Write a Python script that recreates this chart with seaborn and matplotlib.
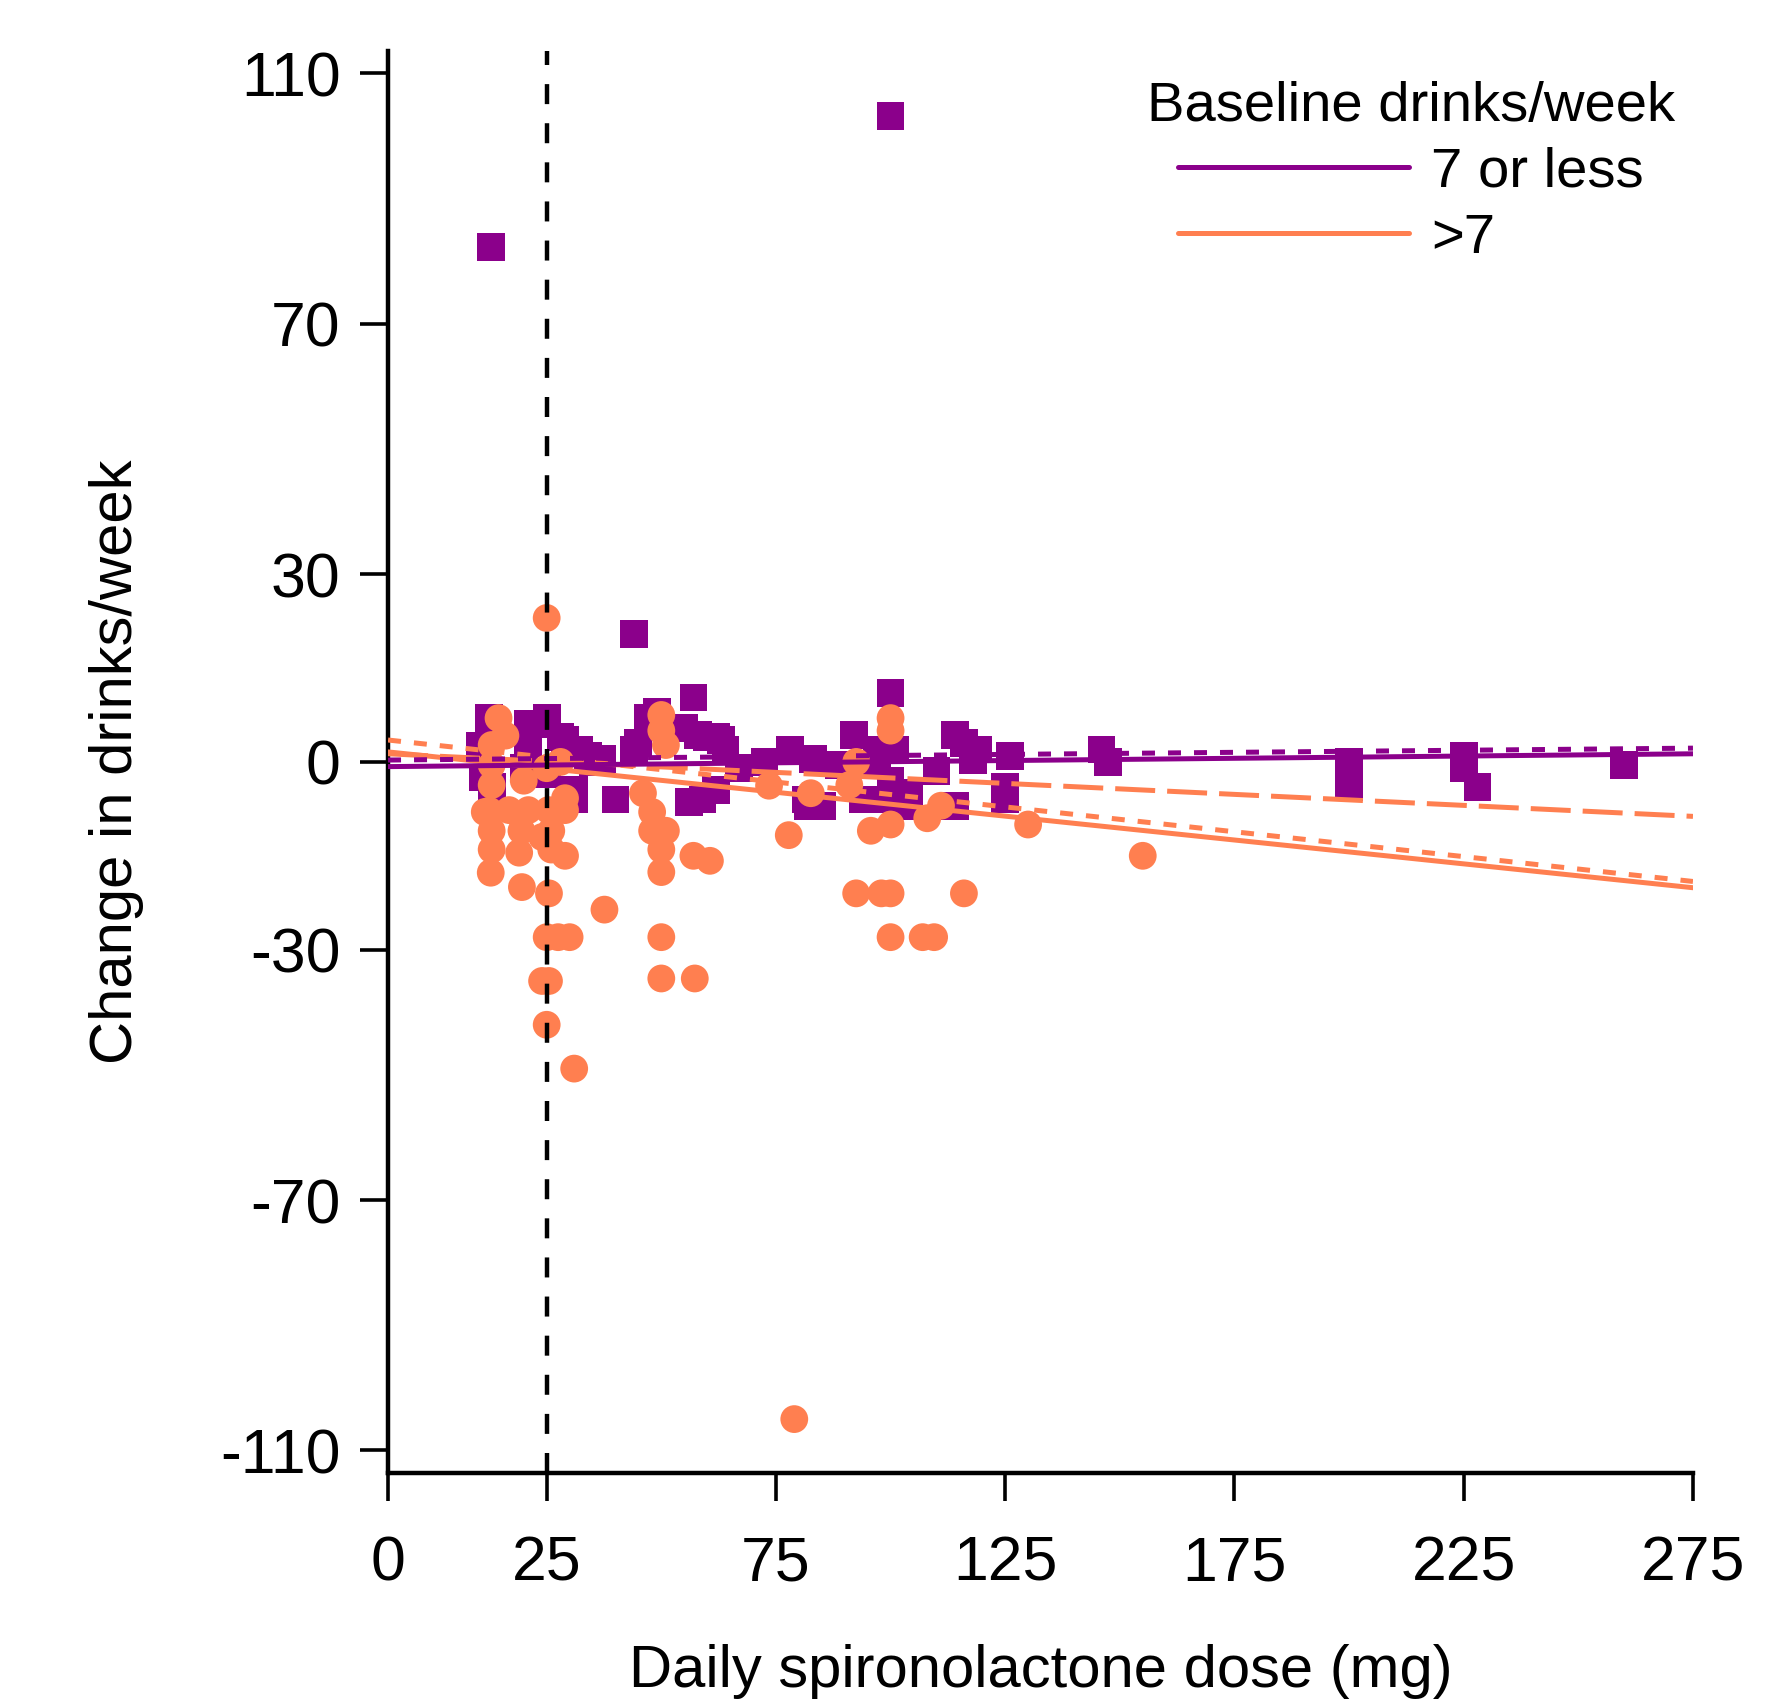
import matplotlib
matplotlib.use("Agg")
import matplotlib.pyplot as plt
from matplotlib.lines import Line2D
import pandas as pd
import numpy as np
import seaborn as sns

purple = "#8B008B"
orange = "#FF7F50"

# baseline 7 or less drinks/week (squares)
low_dose = [12.9, 100, 44, 100, 57, 49, 47, 55, 58, 60, 62, 63, 64, 44, 40,
            72.5, 78, 82, 81.5, 83, 62, 56, 59, 92, 97, 101, 88.8, 97, 100,
            100, 104, 94, 103, 110, 114, 116, 119, 118, 126, 125, 125, 114,
            146, 147.5, 200, 200, 225, 225, 228, 260, 85, 12.5, 12.5, 10.5,
            11, 21, 21, 22, 25, 28, 29, 32, 34, 31, 31, 35, 37, 13, 20, 25,
            45, 67]
low_change = [82.3, 103.2, 20.4, 11, 10.3, 8, 7, 5.4, 4.3, 4, 4, 3.5, 2, 2, -6,
              0, 2, -7, -6, 0.5, -4.5, -6.4, -6, 4.3, 2, 2, -0.5, 0, -3,
              -6, -5, -6, -7, -1.5, 4.3, 3, 2, 0.3, 1, -4, -6, -7,
              2, 0, 0, -4, 1, -1, -4, -0.5, -7, 7, 4, 2.5,
              -2.5, 6, 3, 6, 7, 4, 3.5, 2, 1, -4.5, -6, 0, 0.5, -4, -1, -2,
              3, -1]

# baseline >7 drinks/week (circles)
high_dose = [25, 79, 31, 25, 24, 25.5, 25, 27.5, 30, 37.6, 25.5, 19.6, 12.8,
             29, 19, 13, 13, 24, 26, 12.5, 16.8, 21, 25.4, 29, 11.5, 13, 13,
             13, 14.5, 16, 20, 26, 29, 25, 28, 46, 48, 48, 51, 50, 50, 51,
             50, 50, 57, 60.6, 50, 50, 57.3, 73.5, 77.8, 82.6, 91, 92.5,
             95.7, 100, 108, 111, 130, 155, 92.5, 98, 100, 116, 100, 107,
             109.5, 100, 100, 19.5]
high_change = [23, -105, -49, -42, -35, -35, -28, -28, -28, -23.6, -21, -20,
               -17.7, -15, -14.5, -11, -14, -12, -14, -7.8, -7.7, -7.7, -7.7,
               -7.7, -8, -3.7, -0.5, 2.7, 7, 4.2, -3, -11, -5.8, -1, 0, -5, -8,
               -11, -11, 7.5, 5, 2.7, -14, -17.6, -15, -15.8, -28, -34.6,
               -34.6, -3.8, -11.7, -5, -3.7, 0, -11, -10, -9, -7, -10, -15,
               -21, -21, -21, -21, -28, -28, -28, 7, 5, -11]

# fitted lines, values at the two ends of the axis
fit_x = [-9.6, 275]
low_fit = [-0.75, 1.3]
low_fit_dot = [0.3, 2.2]
high_fit = [1.6, -20.1]
high_fit_dot = [3.5, -19.1]
high_fit_dash = [1.3, -8.7]

xticks = [-9.6, 25, 75, 125, 175, 225, 275]
xticklabels = ["0", "25", "75", "125", "175", "225", "275"]
yticks = [110, 70, 30, 0, -30, -70, -110]

sns.set_theme(style="white")
plt.rcParams['font.family'] = ['Liberation Sans', 'DejaVu Sans']
plt.rcParams['axes.unicode_minus'] = False
for k in ['text.color', 'axes.labelcolor', 'xtick.color', 'ytick.color']:
    plt.rcParams[k] = 'black'

fig = plt.figure(figsize=(17.67, 17.03), dpi=100)
ax = fig.add_axes([0.2196, 0.1351, 0.7385, 0.835])

sns.scatterplot(x=low_dose, y=low_change, marker='s', s=400, color=purple,
                edgecolor='none', linewidth=0, ax=ax, zorder=2)
sns.scatterplot(x=high_dose, y=high_change, marker='o', s=400, color=orange,
                edgecolor='none', linewidth=0, ax=ax, zorder=3)

lw = 3.6
ax.plot(fit_x, high_fit, color=orange, lw=lw, zorder=4)
ax.plot(fit_x, high_fit_dot, color=orange, lw=lw, ls=(0, (2.6, 2.6)), zorder=4)
ax.plot(fit_x, high_fit_dash, color=orange, lw=lw, ls=(0, (8, 2.4)), zorder=4)
ax.plot(fit_x, low_fit, color=purple, lw=lw, zorder=5)
ax.plot(fit_x, low_fit_dot, color=purple, lw=lw, ls=(0, (2.6, 2.6)), zorder=5)

ax.axvline(25, color='black', lw=3.2, ls=(0, (4.5, 4.3)), zorder=6)

ax.set_xlim(-9.6, 275)
ax.set_ylim(-113.6, 113.6)
ax.set_xticks(xticks)
ax.set_xticklabels(xticklabels)
ax.set_yticks(yticks)

for s in ['top', 'right']:
    ax.spines[s].set_visible(False)
for s in ['left', 'bottom']:
    ax.spines[s].set_color('black')
    ax.spines[s].set_linewidth(3.2)

ax.tick_params(axis='both', direction='out', length=20, width=2.6,
               color='black', labelsize=45, labelcolor='black',
               bottom=True, left=True)
ax.tick_params(axis='x', pad=24)
ax.tick_params(axis='y', pad=14)

ax.set_xlabel("Daily spironolactone dose (mg)", fontsize=43, labelpad=37)
ax.set_ylabel("Change in drinks/week", fontsize=43, labelpad=55)

handles = [Line2D([], [], color=purple, lw=lw), Line2D([], [], color=orange, lw=lw)]
leg = ax.legend(handles, ["7 or less", ">7"], title="Baseline drinks/week",
                fontsize=40.5, title_fontsize=40.5, frameon=False,
                loc='center', bbox_to_anchor=(0.7985, 0.8985),
                bbox_transform=fig.transFigure, handlelength=4.1,
                handletextpad=0.4, labelspacing=0.25, borderpad=0)

fig.savefig("out.png", dpi=100, facecolor='white')
